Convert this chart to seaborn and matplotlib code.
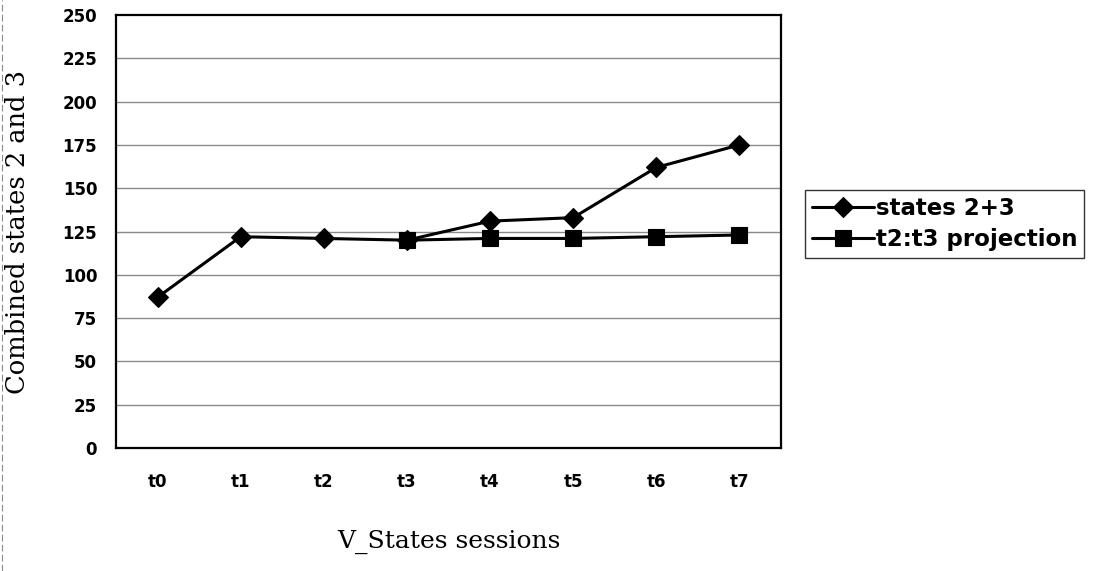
import matplotlib
matplotlib.use("Agg")
import matplotlib.pyplot as plt
from matplotlib.lines import Line2D
import seaborn as sns
import pandas as pd

sessions = ["t0", "t1", "t2", "t3", "t4", "t5", "t6", "t7"]
states_23 = [87, 122, 121, 120, 131, 133, 162, 175]
proj_sessions = ["t3", "t4", "t5", "t6", "t7"]
projection = [120, 121, 121, 122, 123]
y_ticks = [0, 25, 50, 75, 100, 125, 150, 175, 200, 225, 250]

sns.set_theme(style="white")
plt.rcParams["font.family"] = ["DejaVu Sans"]
plt.rcParams["text.color"] = "black"
plt.rcParams["axes.labelcolor"] = "black"
serif = ["DejaVu Serif", "Liberation Serif"]

pos = {s: i for i, s in enumerate(sessions)}
df_states = pd.DataFrame({"session": sessions, "value": states_23})
df_proj = pd.DataFrame({"session": proj_sessions, "value": projection})
df_states["x"] = df_states["session"].map(pos)
df_proj["x"] = df_proj["session"].map(pos)

fig = plt.figure(figsize=(10.94, 5.71), dpi=100)
ax = fig.add_axes([0.1060, 0.2154, 0.6079, 0.7583])

sns.lineplot(data=df_states, x="x", y="value", ax=ax, color="black",
             linewidth=2.2, marker="D", markersize=10.5, markeredgecolor="black",
             markeredgewidth=0.8, label="states 2+3", zorder=3)
sns.lineplot(data=df_proj, x="x", y="value", ax=ax, color="black",
             linewidth=2.2, marker="s", markersize=11.5, markeredgecolor="black",
             markeredgewidth=0.8, label="t2:t3 projection", zorder=4)

ax.set_xlim(-0.5, len(sessions) - 0.5)
ax.set_ylim(0, 250)
ax.set_xticks(range(len(sessions)))
ax.set_xticklabels(sessions)
ax.set_yticks(y_ticks)
ax.set_yticklabels([str(v) for v in y_ticks])

# horizontal gridlines at every labelled value inside the frame
for v in y_ticks[1:-1]:
    ax.axhline(v, color="#8a8a8a", linewidth=1.0, zorder=1)

for sp in ax.spines.values():
    sp.set_color("black")
    sp.set_linewidth(1.6)

ax.tick_params(axis="both", length=0, labelsize=12, colors="black")
ax.tick_params(axis="x", pad=18)
ax.tick_params(axis="y", pad=13.5)
for lbl in ax.get_xticklabels() + ax.get_yticklabels():
    lbl.set_fontweight("bold")

ax.set_xlabel("V_States sessions", family=serif, fontsize=18, va="center",
              color="black")
ax.xaxis.set_label_coords(0.5, -0.217)
ax.set_ylabel("Combined states 2 and 3", family=serif, fontsize=18.5, va="center",
              color="black")
ax.yaxis.set_label_coords(-0.1474, 0.5)

leg = ax.legend(loc="upper left", bbox_to_anchor=(0.7358, 0.6673),
                bbox_transform=fig.transFigure, frameon=True, fancybox=False,
                edgecolor="black", handlelength=2.7, handletextpad=0.1,
                borderpad=0.3, labelspacing=0.35, borderaxespad=0.0,
                prop={"family": "DejaVu Sans", "weight": "bold", "size": 16.5})
leg.get_frame().set_linewidth(1.0)
for txt in leg.get_texts():
    txt.set_color("black")

# faint dashed rule along the left edge of the sheet
fig.add_artist(Line2D([0.0015, 0.0015], [0.0, 1.0], transform=fig.transFigure,
                      color="#8a8a8a", linewidth=0.8, linestyle=(0, (6, 3))))

fig.savefig("out.png", dpi=100, facecolor="white")
